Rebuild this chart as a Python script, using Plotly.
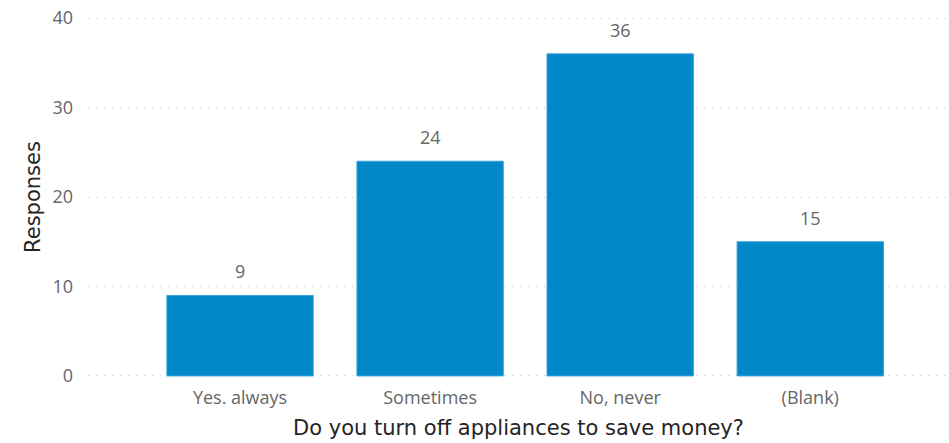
import plotly.graph_objects as go

categories = ["Yes. always", "Sometimes", "No, never", "(Blank)"]
responses = [9, 24, 36, 15]

fig = go.Figure()
fig.add_trace(go.Bar(
    x=categories, y=responses,
    marker=dict(color="#0088C9", line=dict(color="#3AA3D6", width=1)),
    width=0.77,
))

# data labels above the bars
for cat, val in zip(categories, responses):
    fig.add_annotation(x=cat, y=val, text=str(val), showarrow=False,
                       yanchor="middle", yshift=24,
                       font=dict(family="Segoe UI, Open Sans, sans-serif", size=18, color="#666666"))

title_font = dict(family="DejaVu Sans, sans-serif", size=21, color="#252423")

fig.update_layout(
    width=949, height=443,
    template="plotly_white",
    plot_bgcolor="white", paper_bgcolor="white",
    margin=dict(l=88, r=0, t=17, b=66),
    showlegend=False,
    font=dict(family="Segoe UI, Open Sans, sans-serif"),
    xaxis=dict(
        range=[-0.8, 3.73], showgrid=False, showline=False, zeroline=False,
        ticks="", ticklabelstandoff=8, tickfont=dict(size=18, color="#666666"),
        title=dict(text="Do you turn off appliances to save money?", standoff=12, font=title_font),
    ),
    yaxis=dict(
        range=[-0.12, 40.12], tickvals=[0, 10, 20, 30, 40],
        showgrid=True, gridcolor="#C8C8C8", griddash="1px,7px", gridwidth=1,
        zeroline=False, showline=False, ticks="", ticklabelstandoff=14,
        tickfont=dict(size=18, color="#666666"),
        title=dict(text="Responses", standoff=6, font=title_font),
    ),
)

fig.write_html("out.html", config={"displayModeBar": False},
               post_script="document.body.style.margin='0';")
